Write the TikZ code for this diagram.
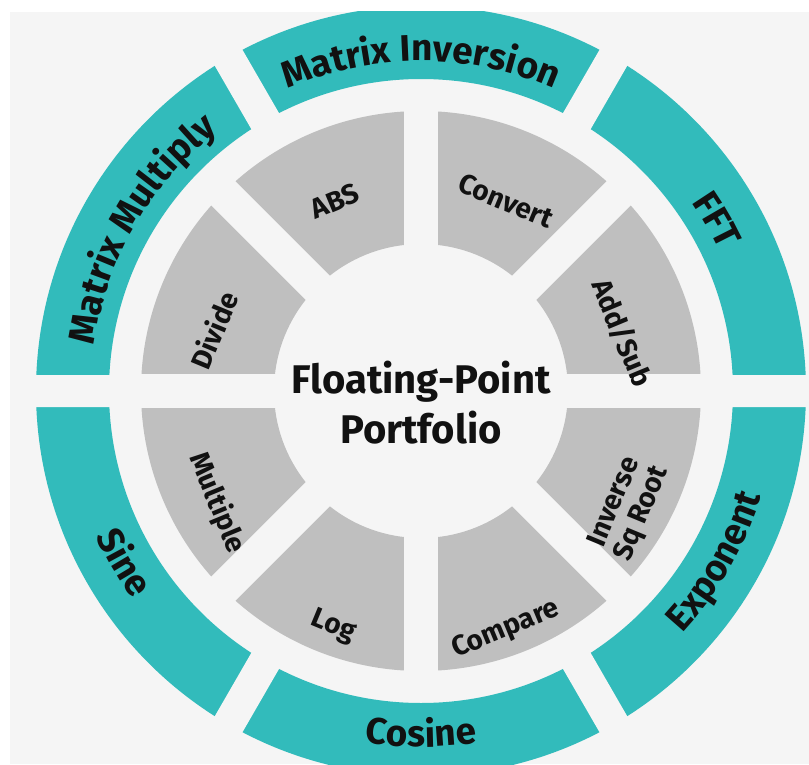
\documentclass[tikz,border=0pt]{standalone}
\usepackage{fontspec}
\setmainfont{Fira Sans}
\usetikzlibrary{decorations.text}
\definecolor{tealring}{RGB}{50,187,187}
\definecolor{grayseg}{RGB}{191,191,191}
\definecolor{bgc}{RGB}{245,245,245}
\definecolor{ink}{RGB}{17,17,17}
\begin{document}
\begin{tikzpicture}[x=1pt,y=1pt,
  seglabel/.style={font=\fontsize{28}{30}\selectfont\bfseries, text=ink, align=center, inner sep=0pt},
  centerlabel/.style={font=\fontsize{40}{48}\selectfont\bfseries, text=ink, inner sep=0pt},
  ringtext/.style={decorate, decoration={text along path, text align=center, text color=ink,
     text={|\fontsize{37}{40}\selectfont\bfseries|#1}}}
]
\useasboundingbox (-421,-373) rectangle (388,391);
\fill[bgc] (-411,-373) rectangle (388,379);
\begin{scope}
  \clip (-411,-373) rectangle (388,379);
  \fill[tealring, even odd rule] (0,0) circle[radius=385pt] (0,0) circle[radius=312pt];
  \fill[grayseg, even odd rule] (0,0) circle[radius=280pt] (0,0) circle[radius=147pt];
  \foreach \a in {0,60,120} {
    \fill[bgc, rotate=\a] (296,-16) rectangle (400,16) (-400,-16) rectangle (-296,16);
  }
  \foreach \a in {0,45,90,135} {
    \fill[bgc, rotate=\a] (-290,-17) rectangle (290,17);
  }
\end{scope}
% outer ring labels
\path[ringtext={Matrix Inversion}] (118:330pt) arc[start angle=118, end angle=62, radius=330pt];
\path[ringtext={FFT}] (58:330pt) arc[start angle=58, end angle=2, radius=330pt];
\path[ringtext={Matrix Multiply}] (178:330pt) arc[start angle=178, end angle=122, radius=330pt];
\path[ringtext={Exponent}] (-58:356pt) arc[start angle=-58, end angle=-2, radius=356pt];
\path[ringtext={Cosine}] (-118:356pt) arc[start angle=-118, end angle=-62, radius=356pt];
\path[ringtext={Sine}] (182:356pt) arc[start angle=182, end angle=238, radius=356pt];
% inner segment labels
\node[seglabel, rotate=22.5] (abs) at (-86,190) {ABS};
\node[seglabel, rotate=-22.5] (convert) at (85,190) {Convert};
\node[seglabel, rotate=-67.5] (addsub) at (201,58) {Add/Sub};
\node[seglabel, rotate=67.5] (divide) at (-207,61) {Divide};
\node[seglabel, rotate=-67.5] (multiple) at (-204,-112) {Multiple};
\node[seglabel, rotate=-22.5] (log) at (-88,-236) {Log};
\node[seglabel, rotate=22.5] (compare) at (85,-239) {Compare};
\node[seglabel, rotate=67.5] (invsqrt) at (208,-117) {Inverse\\Sq Root};
% centre
\node[centerlabel, anchor=base] (fp1) at (0,-2) {Floating-Point};
\node[centerlabel, anchor=base] (fp2) at (0,-52) {Portfolio};
\end{tikzpicture}
\end{document}
